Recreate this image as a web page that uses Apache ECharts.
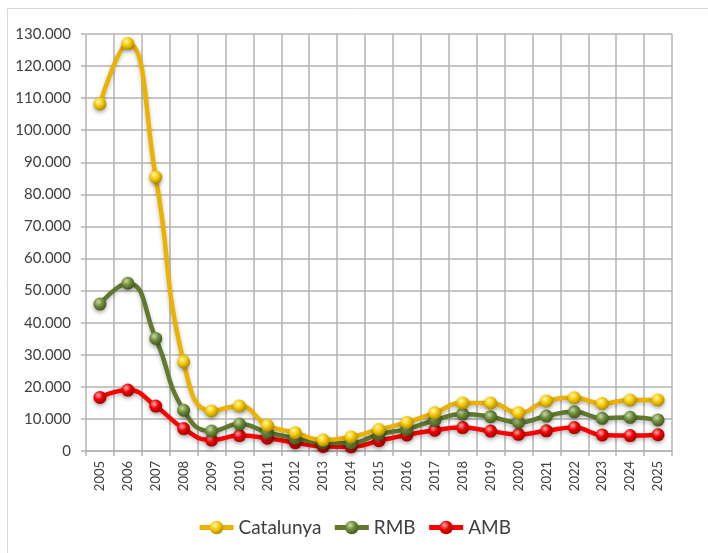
<!DOCTYPE html>
<html>
<head>
<meta charset="utf-8">
<script src="https://cdn.jsdelivr.net/npm/echarts@6/dist/echarts.min.js"></script>
<style>html,body{margin:0;padding:0;background:#fff}#c{width:708px;height:553px}</style>
</head>
<body>
<div id="c"></div>
<script>
const years = ['2005','2006','2007','2008','2009','2010','2011','2012','2013','2014','2015','2016','2017','2018','2019','2020','2021','2022','2023','2024','2025'];
const catalunya = [108200,127000,85400,27800,12500,14000,8000,5700,3400,4400,6700,8900,11900,15000,15000,11900,15600,16600,14800,15900,15900];
const rmb = [45800,52300,35100,12700,6200,8400,5800,4000,2600,2500,5200,6800,9600,11500,10700,8900,10900,12200,10200,10500,9700];
const amb = [16700,19000,14000,7000,3400,4800,4000,2600,1400,1300,3200,5000,6500,7300,6200,5200,6300,7300,5000,4800,5100];
const seriesNames = ['Catalunya','RMB','AMB'];

function fmt(v){ if(v===0) return '0'; return String(v).replace(/\B(?=(\d{3})+(?!\d))/g,'.'); }
function ball(hi, mid, lo){
  return {type:'radial', x:0.38, y:0.33, r:0.75, colorStops:[{offset:0,color:hi},{offset:0.45,color:mid},{offset:1,color:lo}]};
}
const styles = [
  {line:'#EBB200', marker:ball('#fff7b0','#f7c900','#a27b00')},
  {line:'#5F7A2D', marker:ball('#c9dba0','#6d8c3a','#3b4d18')},
  {line:'#FF0000', marker:ball('#ffb0b0','#f20000','#900000')}
];
const data = [catalunya, rmb, amb];

const chart = echarts.init(document.getElementById('c'));
const font = 'Lato, "Open Sans", sans-serif';
chart.setOption({
  animation:false,
  textStyle:{fontFamily:font},
  graphic:[{type:'rect', shape:{x:7.5,y:8.5,width:720,height:600}, style:{fill:'none', stroke:'#d9d9d9', lineWidth:1}, silent:true}],
  grid:{left:86, top:34, right:36, bottom:102},
  legend:{
    bottom:11, left:'center', itemWidth:34, itemHeight:17, itemGap:11,
    lineStyle:{width:5},
    textStyle:{fontSize:19, color:'#404040', fontFamily:font},
    data: seriesNames
  },
  xAxis:{
    type:'category', data:years, boundaryGap:true,
    axisLine:{lineStyle:{color:'#b3b3b3', width:1.5}},
    axisTick:{show:true, alignWithLabel:false, length:5, lineStyle:{color:'#b3b3b3', width:1.5}},
    splitLine:{show:true, interval:0, lineStyle:{color:'#b3b3b3', width:1.5}},
    axisLabel:{rotate:90, interval:0, fontSize:13, color:'#404040', margin:10, fontFamily:font}
  },
  yAxis:{
    type:'value', min:0, max:130000, interval:10000,
    axisLine:{show:false},
    axisTick:{show:true, length:5, lineStyle:{color:'#b3b3b3', width:1.5}},
    splitLine:{lineStyle:{color:'#b3b3b3', width:1.5}},
    axisLabel:{formatter:fmt, fontSize:15, color:'#404040', margin:15, fontFamily:font}
  },
  series: seriesNames.map((n,i)=>({
    name:n, type:'line', data:data[i], smooth:0.5,
    symbol:'circle', symbolSize:13,
    lineStyle:{color:styles[i].line, width:4.5, shadowColor:'rgba(0,0,0,0.25)', shadowBlur:4, shadowOffsetY:2},
    itemStyle:{color:styles[i].marker, borderWidth:0, shadowColor:'rgba(0,0,0,0.35)', shadowBlur:4, shadowOffsetY:2},
    z: 10 - i
  }))
});
</script>
</body>
</html>
